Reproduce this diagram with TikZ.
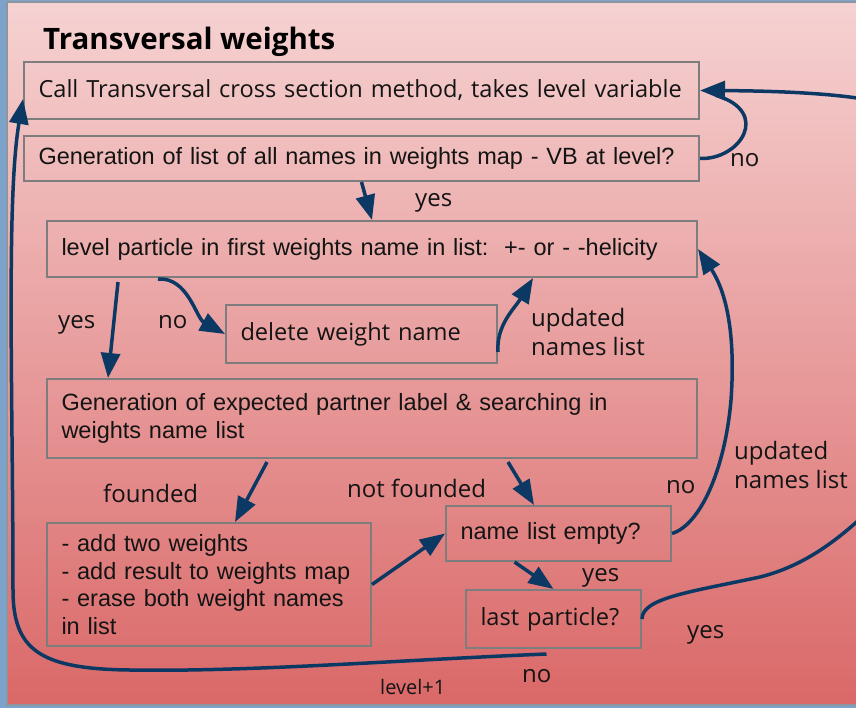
\documentclass[tikz,border=0pt]{standalone}
\usepackage{fontspec}
\setmainfont{Liberation Sans}
\newfontfamily\opensans{Open Sans}
\usetikzlibrary{arrows.meta,calc}
\definecolor{navy}{RGB}{12,56,100}
\definecolor{boxgray}{RGB}{125,125,125}
\definecolor{ink}{RGB}{20,20,20}
\definecolor{bgtop}{RGB}{246,210,210}
\definecolor{bgbot}{RGB}{218,104,104}
\definecolor{frameblue}{RGB}{125,163,202}
\definecolor{framegray}{RGB}{140,150,160}
\newcommand\txtsz{\fontsize{23.5pt}{27.6pt}\selectfont}
\newcommand\ostxtsz{\fontsize{23.6pt}{27.6pt}\selectfont}
\newcommand\lblsz{\fontsize{24pt}{29pt}\selectfont}

\begin{document}
\begin{tikzpicture}[x=1pt,y=-1pt,
  box/.style={draw=boxgray, line width=2pt, anchor=north west, inner xsep=14.5pt,
    inner ysep=0pt, align=left, text=ink, font=\txtsz},
  sans/.style={font=\opensans\ostxtsz},
  flow/.style={draw=navy, line width=3.5pt, -{Triangle[length=25pt,width=19pt]}},
  plainflow/.style={draw=navy, line width=3.5pt},
  lbl/.style={font=\opensans\lblsz, text=ink, inner sep=0pt, anchor=base west, align=left},
]
\useasboundingbox (0,0) rectangle (856,708);

% slide background and frame
\fill[frameblue] (0,0) rectangle (856,708);
\shade[top color=bgtop, bottom color=bgbot] (7,2) rectangle (856,705);
\draw[framegray, line width=1.5pt] (7,2) -- (7,705) -- (856,705);
\draw[framegray, line width=1.5pt] (7,2) -- (856,2);

% title
\node[font=\opensans\bfseries\fontsize{29.5pt}{35pt}\selectfont, text=black,
  anchor=base west, inner sep=0pt] (title) at (43,50) {Transversal weights};

% process boxes
\node[box, sans, text width=646pt, minimum height=57pt] (call) at (23,61)
  {\mbox{Call Transversal cross section method, takes level variable}};
\node[box, text width=646pt, minimum height=45pt] (genlist) at (23,135)
  {\mbox{Generation of list of all names in weights map - VB at level?}};
\node[box, text width=621pt, minimum height=56pt] (level) at (46,220)
  {\mbox{level particle in first weights name in list:\ \ +- or - -helicity}};
\node[box, sans, text width=242pt, minimum height=58pt] (delete) at (225,304)
  {delete weight name};
\node[box, text width=621pt, minimum height=79pt] (expect) at (46,378)
  {\mbox{Generation of expected partner label \& searching in}\\weights name list};
\node[box, text width=295pt, minimum height=123pt] (add) at (46,522)
  {\mbox{- add two weights}\\\mbox{- add result to weights map}\\\mbox{- erase both weight names}\\in list};
\node[box, text width=196pt, minimum height=55pt] (empty) at (445,505)
  {name list empty?};
\node[box, sans, text width=146pt, minimum height=58pt] (last) at (465,589)
  {last particle?};

% connectors
\draw[flow] (genlist.south) -- (level.north);
\draw[flow] ($(level.south west)+(72,4)$) -- ($(expect.north west)+(62,0)$);
\draw[flow] ($(level.south west)+(112,1)$) .. controls (188,277) and (196,318) .. (delete.west);
\draw[flow] ($(delete.south east)+(0,-12)$) .. controls (496,325) and (515,308) .. ($(level.south)+(161,0)$);
\draw[flow] ($(expect.south west)+(221,3)$) -- ($(add.north)+(26,0)$);
\draw[flow] ($(expect.south east)+(-190,3)$) -- ($(empty.north west)+(89,0)$);
\draw[flow] (add.east) -- (empty.west);
\draw[flow] ($(empty.south)+(-44,0)$) -- (last.north);
\draw[flow] (empty.east) .. controls (700,525) and (725,470) .. (731,400)
  .. controls (736,330) and (725,290) .. (level.east);
\draw[plainflow, shorten >=16pt] (genlist.east) .. controls (740,160) and (772,112) .. (call.east);
\begin{scope}
  \clip (0,0) rectangle (856,708);
  \draw[flow] (last.east) .. controls (642,598) and (690,592) .. (760,577)
    .. controls (820,562) and (860,520) .. (900,480) -- (900,110)
    .. controls (880,96) and (800,91) .. (call.east);
\end{scope}
\draw[flow] ($(last.south)+(-7,5)$) .. controls (400,660) and (250,672) .. (130,670)
  .. controls (40,669) and (13,650) .. (13,590)
  .. controls (13,400) and (6,200) .. ($(call.south west)+(0,-21)$);

% connector labels
\node[lbl] (yesA) at (415,207) {yes};
\node[lbl] (noA) at (730,167) {no};
\node[lbl] (yesB) at (58,328) {yes};
\node[lbl] (noB) at (158,328) {no};
\node[lbl, anchor=north west] (updA) at (531,308) {updated\\names list};
\node[lbl] (found) at (103,502) {founded};
\node[lbl] (notfound) at (347,497) {not founded};
\node[lbl] (noC) at (666,493) {no};
\node[lbl, anchor=north west] (updB) at (734,441) {updated\\names list};
\node[lbl] (yesC) at (582,581) {yes};
\node[lbl] (yesD) at (687,638) {yes};
\node[lbl] (noD) at (522,682) {no};
\node[lbl, font=\opensans\fontsize{20pt}{24pt}\selectfont] (levelup) at (380,694) {level+1};
\end{tikzpicture}
\end{document}
